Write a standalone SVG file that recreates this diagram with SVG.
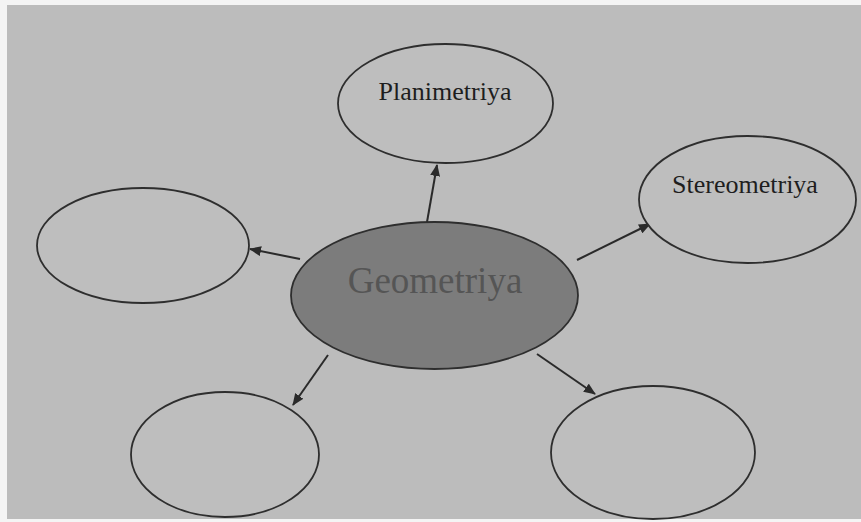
<svg xmlns="http://www.w3.org/2000/svg" width="861" height="522" viewBox="0 0 861 522">
<style>
.bg{fill:#bcbcbc}
.node{fill:#bebebe;stroke:#2e2e2e;stroke-width:1.8}
.center{fill:#7c7c7c;stroke:#2e2e2e;stroke-width:1.8}
.lbl{font-family:"Liberation Serif","Times New Roman",serif;font-size:26px;fill:#1e1e1e;text-anchor:middle}
.clbl{font-family:"Liberation Serif","Times New Roman",serif;font-size:37px;fill:#555555;text-anchor:middle}
.conn{stroke:#2a2a2a;stroke-width:2;fill:none;marker-end:url(#ah)}
</style>
<defs>
<marker id="ah" markerUnits="userSpaceOnUse" markerWidth="12" markerHeight="10" refX="11" refY="5" orient="auto">
<path d="M0,0 L12,5 L0,10 Z" fill="#2a2a2a"/>
</marker>
</defs>
<rect x="0" y="0" width="861" height="522" fill="#f4f4f4"/>
<rect class="bg" x="7" y="5" width="854" height="514"/>
<g id="connectors">
<line class="conn" x1="427" y1="222" x2="437" y2="165"/>
<line class="conn" x1="577" y1="260" x2="650" y2="224"/>
<line class="conn" x1="300" y1="259" x2="250" y2="249"/>
<line class="conn" x1="328" y1="355" x2="293" y2="405"/>
<line class="conn" x1="537" y1="354" x2="595" y2="394"/>
</g>
<g id="planimetriya">
<ellipse class="node" cx="445.5" cy="103.5" rx="107.5" ry="59.5"/>
<text class="lbl" x="445" y="100">Planimetriya</text>
</g>
<g id="stereometriya">
<ellipse class="node" cx="747.5" cy="199.5" rx="108.5" ry="63.5"/>
<text class="lbl" x="745" y="193">Stereometriya</text>
</g>
<g id="left-empty">
<ellipse class="node" cx="143" cy="245.5" rx="106" ry="57.5"/>
</g>
<g id="bottom-left-empty">
<ellipse class="node" cx="225" cy="454.5" rx="94" ry="62.5"/>
</g>
<g id="bottom-right-empty">
<ellipse class="node" cx="653" cy="452.5" rx="102" ry="66.5"/>
</g>
<g id="geometriya">
<ellipse class="center" cx="434.5" cy="295.5" rx="143.5" ry="73.5"/>
<text class="clbl" x="435" y="293">Geometriya</text>
</g>
</svg>
